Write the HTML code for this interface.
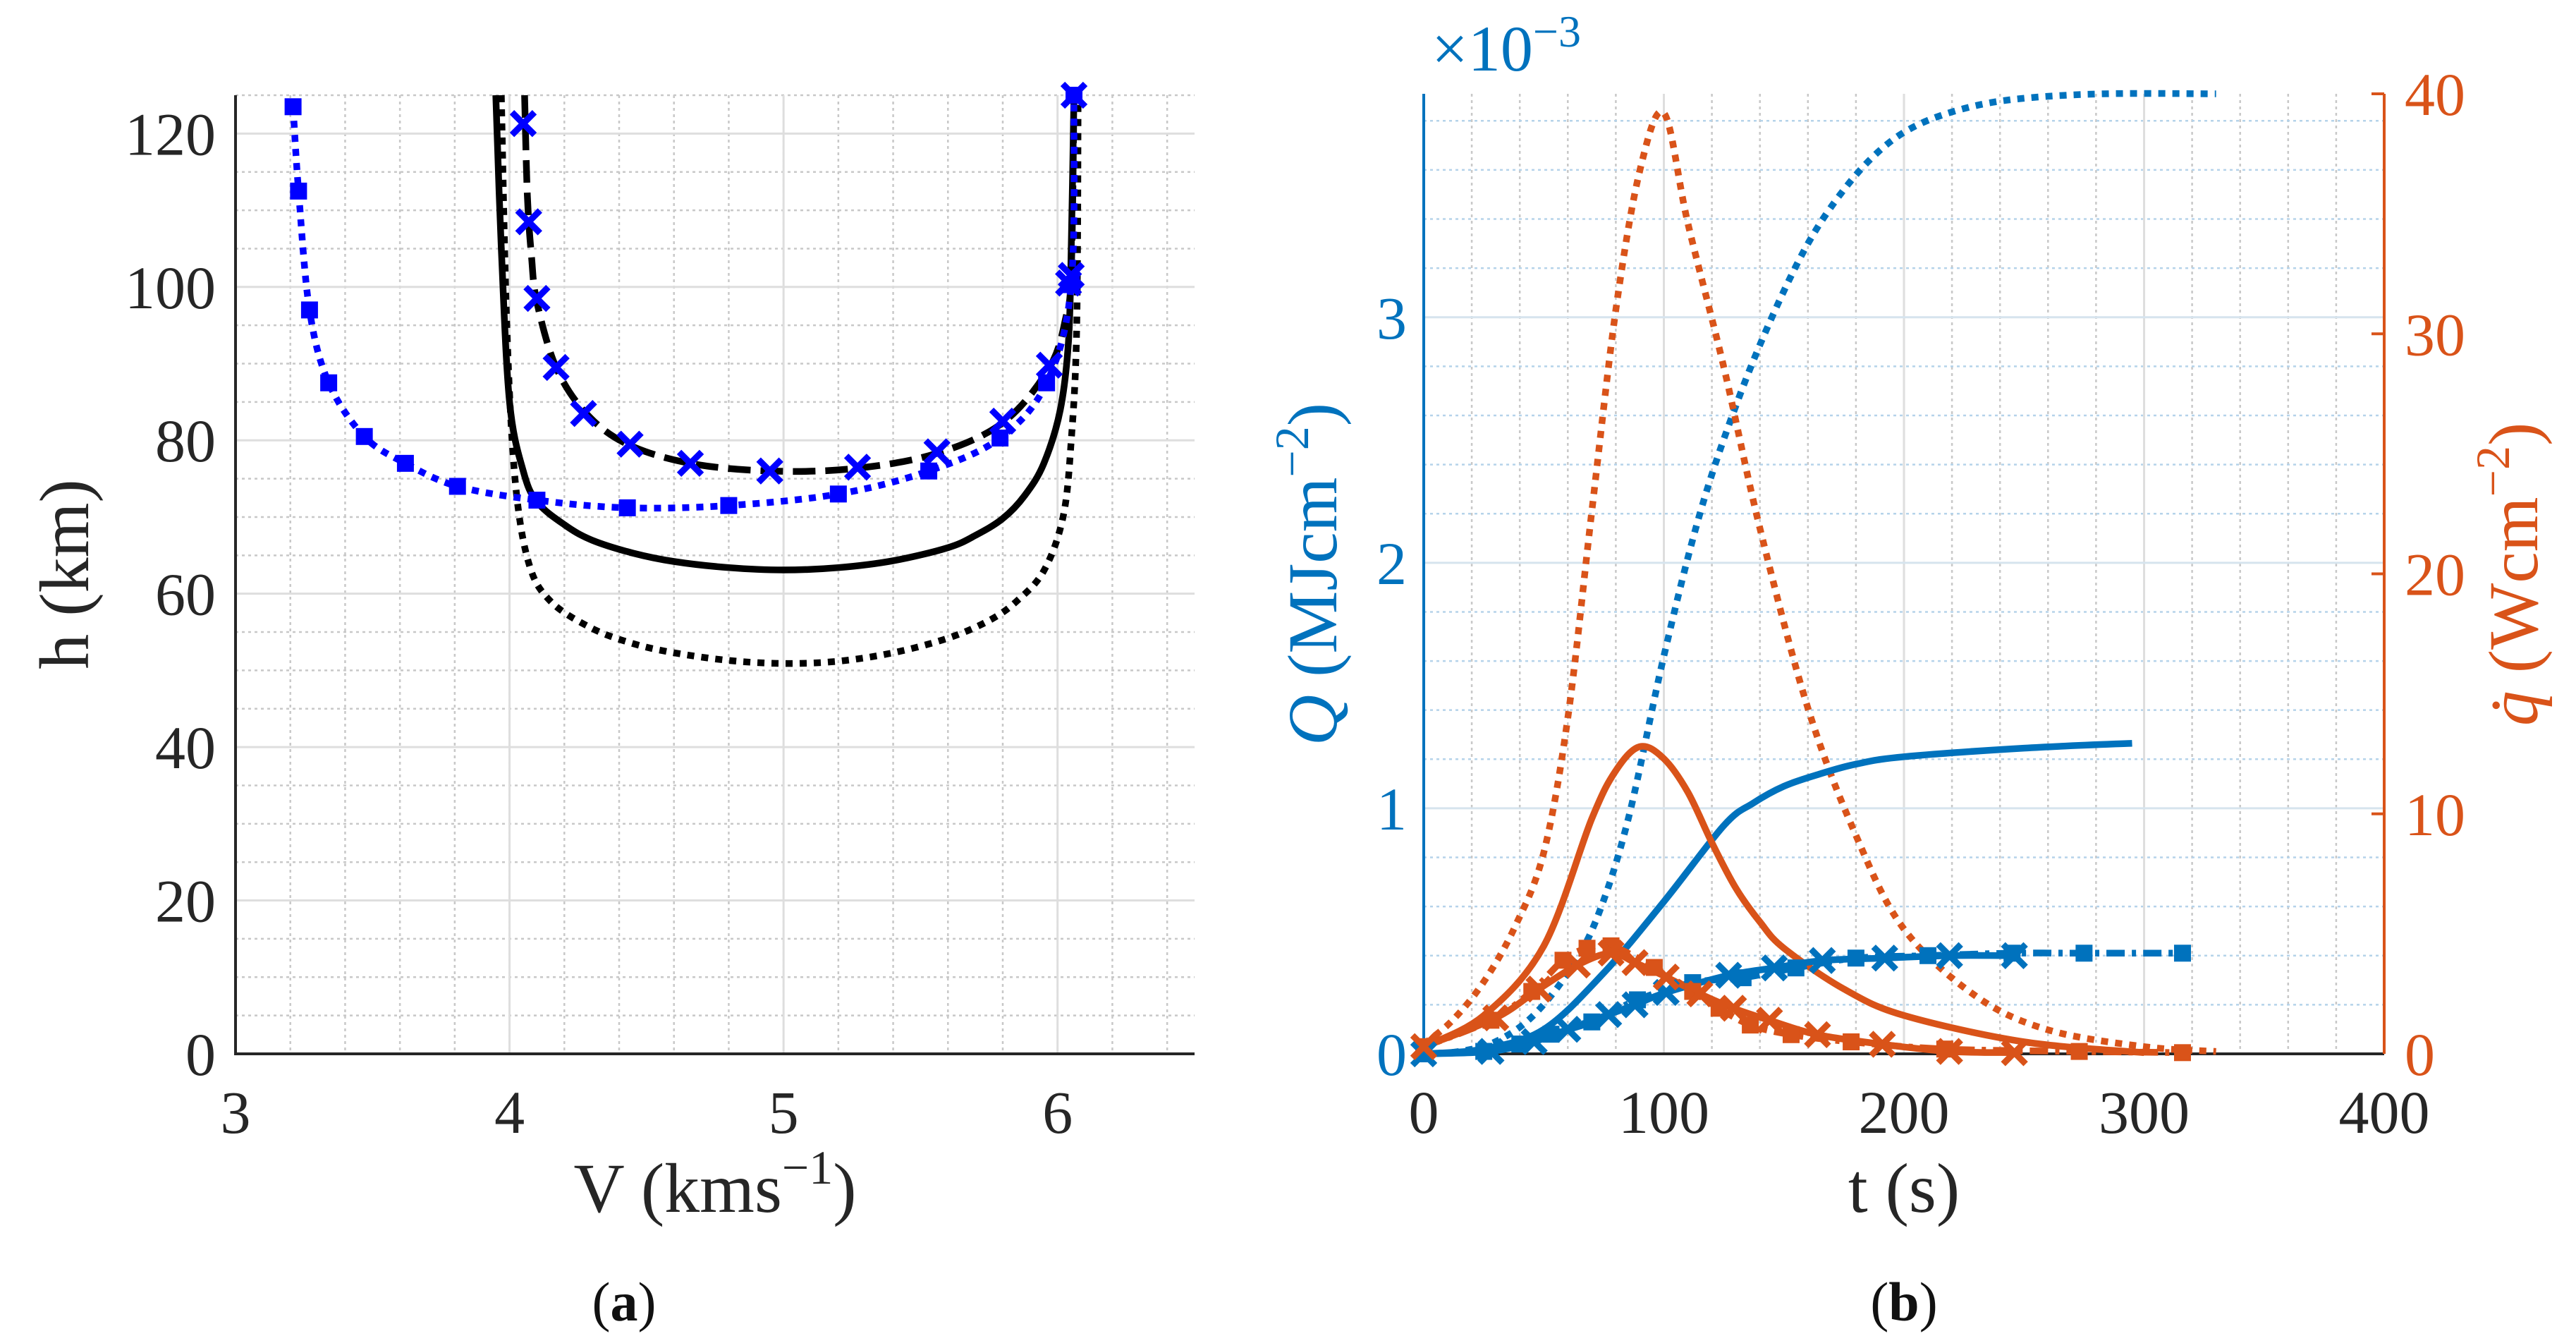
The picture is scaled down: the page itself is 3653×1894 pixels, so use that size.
<!DOCTYPE html>
<html><head><meta charset="utf-8"><style>
html,body{margin:0;padding:0;background:#fff}
svg{display:block}
text{font-family:"Liberation Serif",serif}
</style></head><body>
<svg id="fig" width="3653" height="1894" viewBox="0 0 3653 1894" xmlns="http://www.w3.org/2000/svg">
<g id="pa"></g>
<g id="pb"></g>
<text x="885" y="1872" font-size="78" text-anchor="middle" fill="#111">(<tspan font-weight="bold">a</tspan>)</text>
<text x="2700" y="1872" font-size="78" text-anchor="middle" fill="#111">(<tspan font-weight="bold">b</tspan>)</text>
</svg>
<script>
// ---------- Panel A data ----------
const aSolidV=[3.95,3.97,4.0,4.05,4.1,4.2,4.3,4.45,4.6,4.8,5.0,5.2,5.4,5.6,5.7,5.8,5.88,5.95,6.01,6.04,6.05,6.06];
const aSolidH=[125,105,85,76,72,69,67,65.3,64.2,63.4,63.1,63.4,64.3,66,67.6,69.8,72.8,77,84,93,105,125];
const aDotV=[3.97,3.99,4.02,4.07,4.15,4.3,4.45,4.6,4.8,5.0,5.2,5.4,5.6,5.75,5.85,5.95,6.02,6.05,6.07,6.075];
const aDotH=[125,95,75,64,59,55.5,53.5,52.3,51.3,50.9,51.2,52.3,54.2,56.5,59,63,70,80,95,125];
const aDashV=[4.055,4.065,4.08,4.1,4.17,4.28,4.43,4.66,4.95,5.25,5.55,5.8,5.97,6.03,6.05,6.06];
const aDashH=[125,112,104,98,89.5,83.5,79.5,77,76,76.3,78.2,82.3,89.5,96,102,125];
const aXmV=[4.05,4.07,4.1,4.17,4.27,4.44,4.66,4.95,5.27,5.56,5.8,5.97,6.04,6.05,6.06];
const aXmH=[121.3,108.5,98.5,89.5,83.5,79.5,77,76,76.5,78.5,82.5,89.8,100.5,101.5,125];
const aSqV=[3.21,3.23,3.27,3.34,3.47,3.62,3.81,4.1,4.43,4.8,5.2,5.53,5.79,5.96,6.05,6.06];
const aSqH=[123.5,112.5,97,87.5,80.5,77,74,72.2,71.2,71.5,73,76,80.3,87.5,100.3,125];
const aXTicks=[3,4,5,6];
const aYTicks=[0,20,40,60,80,100,120];
// ---------- Panel B data ----------
const bQdotT=[0,15,30,45,60,72,85,100,115,130,145,160,175,190,205,225,248,283,330];
const bQdotV=[0,0.01,0.05,0.15,0.33,0.55,0.95,1.62,2.2,2.64,3.0,3.3,3.52,3.68,3.78,3.85,3.89,3.91,3.91];
const bqdotT=[0,12,25,38,50,60,70,80,90,100,110,125,140,160,180,200,230,260,300,330];
const bqdotV=[0.4,1.4,3,5.3,8.4,14,22.6,31,36.8,39.2,34.6,28.6,21.9,14.4,9.1,5.2,2.4,1,0.3,0.1];
const bQsolT=[0,25,50,75,100,125,137,150,165,180,200,250,295];
const bQsolV=[0,0.02,0.1,0.33,0.62,0.93,1.02,1.09,1.14,1.18,1.21,1.245,1.265];
const bqsolT=[0,25,50,70,80,90,100,110,120,130,140,150,175,200,250,300];
const bqsolV=[0.3,1.6,4.5,9.8,11.8,12.8,12.3,10.9,8.8,6.9,5.5,4.4,2.7,1.6,0.5,0.05];
const bQxT=[0,28,46,60,77,88,101,127,146,166,192,219,246];
const bQxV=[0,0.01,0.05,0.1,0.16,0.2,0.25,0.32,0.35,0.38,0.39,0.4,0.4];
const bQsqT=[0,25,40,53,70,89,112,133,155,180,210,245,275,316];
const bQsqV=[0,0.01,0.04,0.08,0.13,0.22,0.29,0.31,0.35,0.39,0.4,0.41,0.41,0.41];
const bqxT=[0,30,48,64,78,88,101,115,129,144,164,191,219,246];
const bqxV=[0.3,1.5,2.7,3.7,4.2,3.8,3.2,2.5,1.9,1.4,0.8,0.4,0.1,0.05];
const bqsqT=[0,28,45,58,68,78,96,112,123,136,153,178,217,273,316];
const bqsqV=[0.3,1.4,2.6,3.9,4.4,4.5,3.6,2.6,1.9,1.2,0.8,0.5,0.2,0.1,0.05];
const bXTicks=[0,100,200,300,400];
const bQTicks=[0,1,2,3];
const bqTicks=[0,10,20,30,40];

const NS="http://www.w3.org/2000/svg";
function mk(parent,tag,attrs){const e=document.createElementNS(NS,tag);for(const k in attrs)e.setAttribute(k,attrs[k]);parent.appendChild(e);return e;}
function pathD(pts){
  if(pts.length<2)return "";
  let d="M"+pts[0][0].toFixed(1)+","+pts[0][1].toFixed(1);
  for(let i=0;i<pts.length-1;i++){
    const p0=pts[Math.max(0,i-1)],p1=pts[i],p2=pts[i+1],p3=pts[Math.min(pts.length-1,i+2)];
    const c1=[p1[0]+(p2[0]-p0[0])/6,p1[1]+(p2[1]-p0[1])/6];
    const c2=[p2[0]-(p3[0]-p1[0])/6,p2[1]-(p3[1]-p1[1])/6];
    d+=" C"+c1[0].toFixed(1)+","+c1[1].toFixed(1)+" "+c2[0].toFixed(1)+","+c2[1].toFixed(1)+" "+p2[0].toFixed(1)+","+p2[1].toFixed(1);
  }
  return d;
}
function pts(xs,ys,fx,fy){return xs.map((x,i)=>[fx(x),fy(ys[i])]);}
const FS=86, TS=100, LW=9.5;

// ---------- Panel A ----------
const pa=document.getElementById('pa');
const aL=334,aR=1694,aT=135,aB=1494;
const ax=v=>aL+(v-3)/3.5*(aR-aL);
const ay=h=>aB-h/125*(aB-aT);
for(let v=3.2;v<6.5;v+=0.2){const x=ax(v);
  const g=mk(pa,'line',{x1:x,y1:aT,x2:x,y2:aB,stroke:'#c8c8c8','stroke-width':2.5,'stroke-dasharray':'4 5'});
  }
for(let h=5;h<=125;h+=5){if(h%20===0)continue;const y=ay(h);
  const g=mk(pa,'line',{x1:aL,y1:y,x2:aR,y2:y,stroke:'#c8c8c8','stroke-width':2.5,'stroke-dasharray':'4 5'});
  }
aXTicks.forEach(v=>{const x=ax(v);
  const g=mk(pa,'line',{x1:x,y1:aT,x2:x,y2:aB,stroke:'#dedede','stroke-width':3});
  
  const t=mk(pa,'text',{x:x,y:1606,'font-size':FS,'text-anchor':'middle',fill:'#262626'});t.textContent=v;
  });
aYTicks.forEach(h=>{const y=ay(h);
  const g=mk(pa,'line',{x1:aL,y1:y,x2:aR,y2:y,stroke:'#dedede','stroke-width':3});
  
  const t=mk(pa,'text',{x:306,y:y+30,'font-size':FS,'text-anchor':'end',fill:'#262626'});t.textContent=h;
  });
let e=mk(pa,'path',{d:`M${aL},${aT} V${aB} H${aR}`,fill:'none',stroke:'#262626','stroke-width':4});

e=mk(pa,'text',{x:1014,y:1718,'font-size':TS,'text-anchor':'middle',fill:'#262626'});
e.innerHTML='V (kms<tspan dy="-40" font-size="68">−1</tspan><tspan dy="40">)</tspan>';

e=mk(pa,'text',{x:0,y:0,'font-size':TS,'text-anchor':'middle',fill:'#262626',transform:'translate(125,814) rotate(-90)'});
e.textContent='h (km)';

const clipA=mk(pa,'clipPath',{id:'ca'});mk(clipA,'rect',{x:aL-20,y:aT-20,width:aR-aL+40,height:aB-aT+20});
const ga=mk(pa,'g',{'clip-path':'url(#ca)'});

e=mk(ga,'path',{d:pathD(pts(aSolidV,aSolidH,ax,ay)),fill:'none',stroke:'#000','stroke-width':LW});

e=mk(ga,'path',{d:pathD(pts(aDotV,aDotH,ax,ay)),fill:'none',stroke:'#000','stroke-width':LW,'stroke-dasharray':'10 10'});

e=mk(ga,'path',{d:pathD(pts(aDashV,aDashH,ax,ay)),fill:'none',stroke:'#000','stroke-width':LW,'stroke-dasharray':'32 14'});

e=mk(ga,'path',{d:pathD(pts(aSqV,aSqH,ax,ay)),fill:'none',stroke:'#0000ff','stroke-width':LW,'stroke-dasharray':'10 10'});

aSqV.forEach((v,i)=>{const x=ax(v),y=ay(aSqH[i]);
  const s=mk(ga,'rect',{x:x-12,y:y-12,width:24,height:24,fill:'#0000ff'});
  });
aXmV.forEach((v,i)=>{const x=ax(v),y=ay(aXmH[i]);
  const s=mk(ga,'path',{d:`M${x-16},${y-16}L${x+16},${y+16}M${x-16},${y+16}L${x+16},${y-16}`,stroke:'#0000ff','stroke-width':9});
  });

// ---------- Panel B ----------
const pb=document.getElementById('pb');
const bL=2019,bR=3381,bT=133,bB=1494;
const bx=t=>bL+t/400*(bR-bL);
const QMAX=3.91;
const bQ=q=>bB-q/QMAX*(bB-bT);
const bq=q=>bB-q/40*(bB-bT);
const BLUE='#0072BD',OR='#D95319';
for(let t=20;t<400;t+=20){if(t%100===0)continue;const x=bx(t);
  e=mk(pb,'line',{x1:x,y1:bT,x2:x,y2:bB,stroke:'#c8c8c8','stroke-width':2.5,'stroke-dasharray':'4 5'});
  }
for(let q=0.2;q<3.95;q+=0.2){if(Math.abs(q-Math.round(q))<0.01)continue;const y=bQ(q);
  e=mk(pb,'line',{x1:bL,y1:y,x2:bR,y2:y,stroke:'#b5d3ea','stroke-width':2.5,'stroke-dasharray':'4 5'});
  }
bXTicks.forEach(t=>{const x=bx(t);
  e=mk(pb,'line',{x1:x,y1:bT,x2:x,y2:bB,stroke:'#dedede','stroke-width':3});
  
  const s=mk(pb,'text',{x:x,y:1606,'font-size':FS,'text-anchor':'middle',fill:'#262626'});s.textContent=t;
  });
bQTicks.forEach(q=>{const y=bQ(q);
  e=mk(pb,'line',{x1:bL,y1:y,x2:bR,y2:y,stroke:'#d6e4ee','stroke-width':3});
  
  const s=mk(pb,'text',{x:1995,y:y+30,'font-size':FS,'text-anchor':'end',fill:BLUE});s.textContent=q;
  });
bqTicks.forEach(q=>{const y=bq(q);
  e=mk(pb,'line',{x1:bR-18,y1:y,x2:bR,y2:y,stroke:OR,'stroke-width':4});
  
  const s=mk(pb,'text',{x:3410,y:y+30,'font-size':FS,'text-anchor':'start',fill:OR});s.textContent=q;
  });
e=mk(pb,'line',{x1:bL,y1:bB,x2:bR,y2:bB,stroke:'#262626','stroke-width':4});

e=mk(pb,'line',{x1:bL,y1:bT,x2:bL,y2:bB,stroke:BLUE,'stroke-width':4});

e=mk(pb,'line',{x1:bR,y1:bT,x2:bR,y2:bB,stroke:OR,'stroke-width':4});

e=mk(pb,'text',{x:2030,y:100,'font-size':92,fill:BLUE});
e.innerHTML='×10<tspan dy="-34" font-size="64">−3</tspan>';

e=mk(pb,'text',{x:2700,y:1718,'font-size':TS,'text-anchor':'middle',fill:'#262626'});
e.textContent='t (s)';

e=mk(pb,'text',{x:0,y:0,'font-size':TS,'text-anchor':'middle',fill:BLUE,transform:'translate(1895,814) rotate(-90)'});
e.innerHTML='<tspan font-style="italic">Q</tspan> (MJcm<tspan dy="-40" font-size="68">−2</tspan><tspan dy="40">)</tspan>';

e=mk(pb,'text',{x:0,y:0,'font-size':TS,'text-anchor':'middle',fill:OR,transform:'translate(3598,814) rotate(-90)'});
e.innerHTML='<tspan font-style="italic">q̇</tspan> (Wcm<tspan dy="-40" font-size="68">−2</tspan><tspan dy="40">)</tspan>';

const gb=mk(pb,'g',{});

function line(xs,ys,fy,col,dash,name){const p=mk(gb,'path',{d:pathD(pts(xs,ys,bx,fy)),fill:'none',stroke:col,'stroke-width':LW});
  if(dash)p.setAttribute('stroke-dasharray',dash);
  }
line(bQdotT,bQdotV,bQ,BLUE,'10 10','b-Q-dotted');
line(bqdotT,bqdotV,bq,OR,'10 10','b-qdot-dotted');
line(bQsolT,bQsolV,bQ,BLUE,null,'b-Q-solid');
line(bqsolT,bqsolV,bq,OR,null,'b-qdot-solid');
line(bQsqT,bQsqV,bQ,BLUE,'26 10 6 10','b-Q-square-line');
line(bqsqT,bqsqV,bq,OR,'26 10 6 10','b-qdot-square-line');
line(bQxT,bQxV,bQ,BLUE,null,'b-Q-x-line');
line(bqxT,bqxV,bq,OR,null,'b-qdot-x-line');
function sq(xs,ys,fy,col){xs.forEach((t,i)=>{const x=bx(t),y=fy(ys[i]);
  const s=mk(gb,'rect',{x:x-12,y:y-12,width:24,height:24,fill:col});
  });}
function xm(xs,ys,fy,col){xs.forEach((t,i)=>{const x=bx(t),y=fy(ys[i]);
  const s=mk(gb,'path',{d:`M${x-16},${y-16}L${x+16},${y+16}M${x-16},${y+16}L${x+16},${y-16}`,stroke:col,'stroke-width':9});
  });}
sq(bQsqT,bQsqV,bQ,BLUE);sq(bqsqT,bqsqV,bq,OR);
xm(bQxT,bQxV,bQ,BLUE);xm(bqxT,bqxV,bq,OR);
</script>
</body></html>
